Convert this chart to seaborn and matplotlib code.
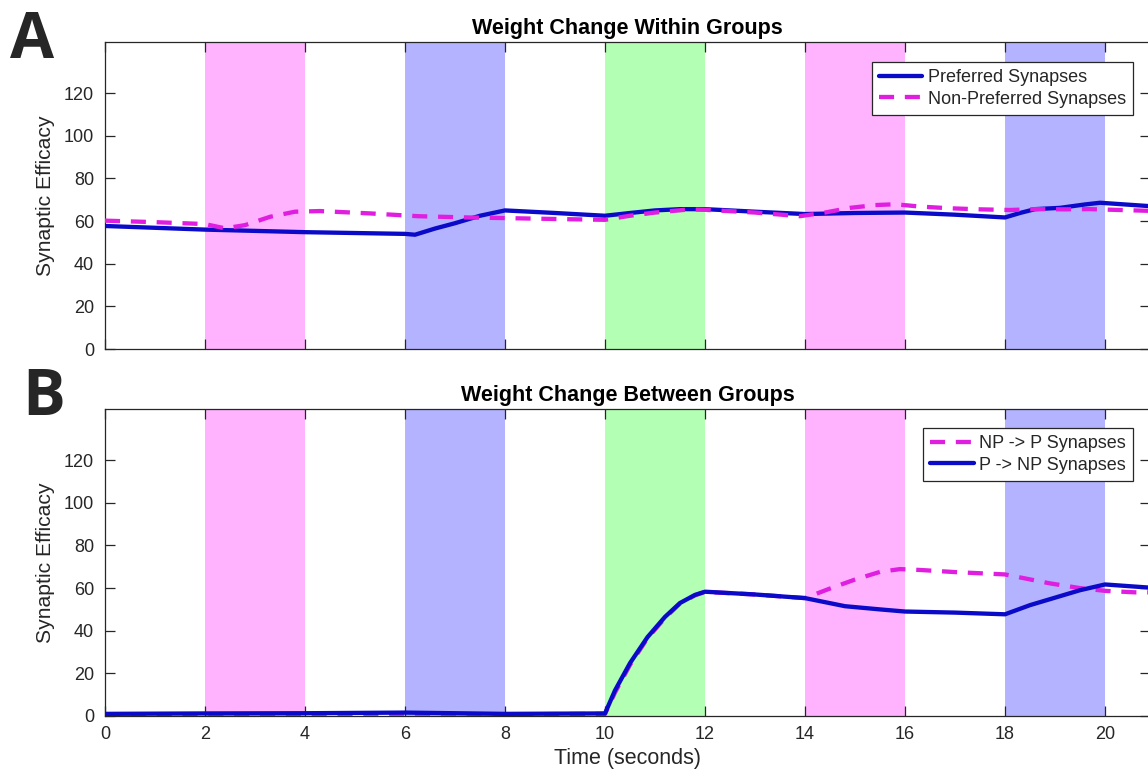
import numpy as np
import pandas as pd
import matplotlib
matplotlib.use("Agg")
import matplotlib.pyplot as plt
import seaborn as sns
from matplotlib.lines import Line2D

# ---------------- data ----------------
# Panel A: Weight change within groups
t_pref = [0, 2, 4, 6, 6.2, 6.6, 7, 7.5, 8, 9, 10, 10.5, 11, 11.5, 12, 13, 14, 15, 16, 17,
          18, 18.3, 18.6, 19.1, 19.6, 19.9, 20.9]
v_pref = [57.7, 56.0, 54.8, 54.0, 53.6, 56.5, 59.0, 62.5, 65.0, 63.8, 62.5, 63.8, 65.0, 65.6,
          65.6, 64.4, 63.3, 63.8, 64.0, 63.0, 61.7, 63.8, 65.6, 66.2, 67.8, 68.6, 67.0]

t_npref = [0, 1, 2, 2.4, 2.8, 3.3, 3.8, 4.3, 5.3, 6.25, 7.25, 8, 9.2, 10, 10.5, 11, 11.7,
           12, 13, 13.9, 14.4, 14.9, 15.4, 15.8, 16.3, 16.9, 17.5, 18.1, 18.6, 19.2, 19.7,
           20.3, 20.9]
v_npref = [60.2, 59.5, 58.6, 56.6, 58.1, 62.0, 64.4, 64.7, 63.6, 62.3, 61.7, 61.4, 60.9,
           60.6, 62.5, 64.0, 65.5, 65.3, 64.0, 62.3, 64.0, 66.2, 67.5, 67.9, 66.8, 66.0,
           65.5, 65.2, 65.6, 65.5, 65.6, 65.2, 64.8]

# Panel B: Weight change between groups
t_p2np = [0, 2, 4, 6, 8, 10, 10.2, 10.5, 10.85, 11.2, 11.5, 11.8, 12, 13, 14, 14.8, 15.5,
          16, 17, 18, 18.5, 19, 19.5, 20, 20.9]
v_p2np = [1.0, 1.2, 1.3, 1.6, 1.0, 1.2, 12.0, 24.8, 37.0, 46.5, 53.0, 56.8, 58.3, 57.0,
          55.3, 51.5, 50.0, 49.0, 48.5, 47.7, 52.0, 55.5, 59.0, 61.7, 60.2]

t_np2p = [0, 2, 2.5, 3, 3.5, 4, 6, 8, 10, 10.2, 10.5, 10.85, 11.2, 11.5, 11.8, 12, 13, 14,
          14.5, 15, 15.5, 15.9, 16.3, 17, 18, 18.9, 19.5, 20, 20.6, 20.9]
v_np2p = [0.8, 0.6, 0.2, 0.3, 0.2, 0.4, 1.0, 0.8, 1.0, 11.0, 24.0, 36.5, 46.0, 52.8, 56.6,
          58.2, 57.0, 55.3, 59.8, 64.0, 67.6, 68.9, 68.5, 67.5, 66.4, 62.2, 60.0, 58.7,
          58.0, 58.0]

# stimulus periods
band_start = [2, 6, 10, 14, 18]
band_end = [4, 8, 12, 16, 20]
band_color = ["#FFB3FF", "#B3B3FF", "#B3FFB3", "#FFB3FF", "#B3B3FF"]

yticks = [0, 20, 40, 60, 80, 100, 120]
xticks = [0, 2, 4, 6, 8, 10, 12, 14, 16, 18, 20]

# ---------------- style ----------------
sns.set_style("white")
plt.rcParams["font.family"] = ["Liberation Sans", "DejaVu Sans"]

BLUE = "#0A0AC8"
MAG = "#E01EE0"
GRAY = "#262626"

fig = plt.figure(figsize=(11.48, 7.8), dpi=100)
W, H = 1148.0, 780.0
ax_left = 105 / W
ax_w = 1045 / W
axA = fig.add_axes([ax_left, 1 - 349 / H, ax_w, 307 / H])
axB = fig.add_axes([ax_left, 1 - 716 / H, ax_w, 307 / H])

dfA = pd.concat([
    pd.DataFrame({"t": t_pref, "w": v_pref, "s": "Preferred Synapses"}),
    pd.DataFrame({"t": t_npref, "w": v_npref, "s": "Non-Preferred Synapses"}),
])
dfB = pd.concat([
    pd.DataFrame({"t": t_np2p, "w": v_np2p, "s": "NP -> P Synapses"}),
    pd.DataFrame({"t": t_p2np, "w": v_p2np, "s": "P -> NP Synapses"}),
])

LW = 3.1
DASH = (3.5, 2.5)


def style_axes(ax, title, show_xlabels):
    for s0, s1, c in zip(band_start, band_end, band_color):
        ax.axvspan(s0, s1, color=c, lw=0, zorder=0)
    ax.set_xlim(0, 20.9)
    ax.set_ylim(0, 144)
    ax.set_xticks(xticks)
    ax.set_yticks(yticks)
    ax.tick_params(direction="in", length=7, width=0.9, colors=GRAY, labelsize=13,
                   top=True, right=True, bottom=True, left=True, pad=7)
    ax.tick_params(axis="y", pad=8)
    if not show_xlabels:
        ax.tick_params(axis="x", labelbottom=False)
    for sp in ax.spines.values():
        sp.set_color(GRAY)
        sp.set_linewidth(0.9)
        sp.set_visible(True)
    ax.set_ylabel("Synaptic Efficacy", fontsize=15.2, color=GRAY, labelpad=6)
    ax.set_title(title, fontsize=15.5, fontweight="bold", color="black", pad=6)


# Panel A
sns.lineplot(data=dfA, x="t", y="w", hue="s", style="s",
             palette={"Preferred Synapses": BLUE, "Non-Preferred Synapses": MAG},
             dashes={"Preferred Synapses": "", "Non-Preferred Synapses": DASH},
             estimator=None, sort=False, lw=LW, ax=axA, legend=False, zorder=3)
style_axes(axA, "Weight Change Within Groups", False)
axA.set_xlabel("")

# Panel B
sns.lineplot(data=dfB, x="t", y="w", hue="s", style="s",
             palette={"NP -> P Synapses": MAG, "P -> NP Synapses": BLUE},
             dashes={"NP -> P Synapses": DASH, "P -> NP Synapses": ""},
             estimator=None, sort=False, lw=LW, ax=axB, legend=False, zorder=3)
style_axes(axB, "Weight Change Between Groups", True)
axB.set_xlabel("Time (seconds)", fontsize=15.5, color=GRAY, labelpad=4)

# legends
leg_kw = dict(loc="upper right", borderaxespad=0, fontsize=13, frameon=True,
              fancybox=False, edgecolor=GRAY, framealpha=1, handlelength=2.4,
              handletextpad=0.3, borderpad=0.4, labelspacing=0.25)
hA = [Line2D([], [], color=BLUE, lw=LW),
      Line2D([], [], color=MAG, lw=LW, dashes=DASH)]
legA = axA.legend(hA, ["Preferred Synapses", "Non-Preferred Synapses"],
                  bbox_to_anchor=(1028 / 1045, 1 - 20 / 307), **leg_kw)
legA.get_frame().set_linewidth(0.9)

hB = [Line2D([], [], color=MAG, lw=LW, dashes=DASH),
      Line2D([], [], color=BLUE, lw=LW)]
legB = axB.legend(hB, ["NP -> P Synapses", "P -> NP Synapses"],
                  bbox_to_anchor=(1028 / 1045, 1 - 19 / 307), **leg_kw)
legB.get_frame().set_linewidth(0.9)

# panel letters
fig.text(10 / W, 1 - 58 / H, "A", fontsize=46, fontweight="bold",
         family=["Open Sans", "DejaVu Sans"], ha="left", va="baseline")
fig.text(22 / W, 1 - 415 / H, "B", fontsize=46, fontweight="bold",
         family=["Open Sans", "DejaVu Sans"], ha="left", va="baseline")

fig.savefig("out.png", dpi=100)
